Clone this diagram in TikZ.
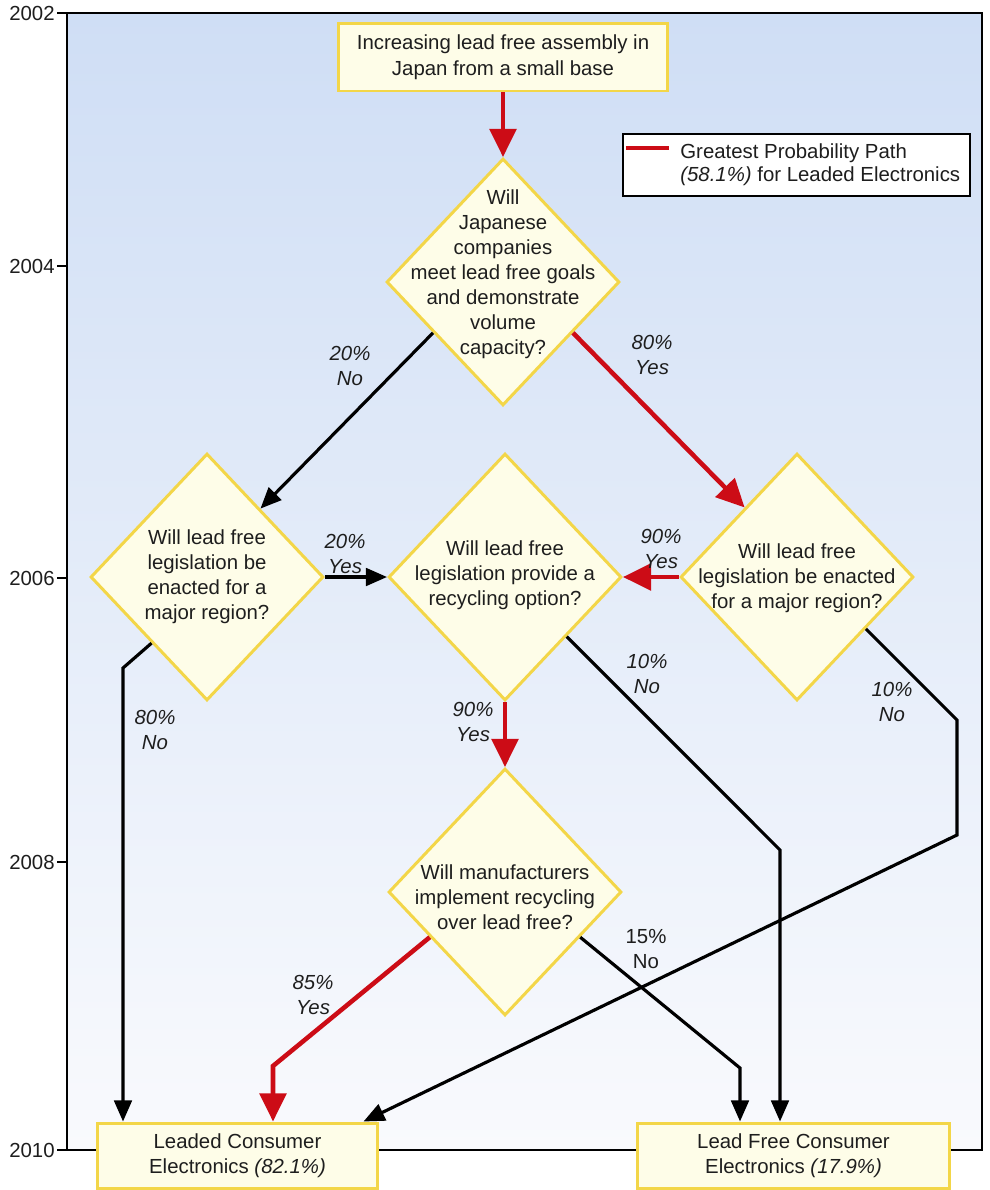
\documentclass[tikz,border=0pt]{standalone}
\usepackage{fontspec}
\setmainfont{Liberation Sans}
\usetikzlibrary{shapes.geometric,arrows.meta,calc}

\definecolor{pathred}{RGB}{204,12,22}
\definecolor{boxfill}{RGB}{254,253,232}
\definecolor{boxline}{RGB}{243,214,72}
\definecolor{bgtop}{RGB}{207,222,245}
\definecolor{bgmid}{RGB}{228,235,248}
\definecolor{bgbot}{RGB}{249,250,253}
\definecolor{ink}{RGB}{30,30,30}

\tikzset{
  txt/.style={font=\fontsize{11.6}{14.2}\selectfont, text=ink, align=center, inner sep=0pt},
  pct/.style={txt, font=\fontsize{11.6}{13.8}\selectfont\itshape},
  pctup/.style={txt, font=\fontsize{11.6}{13.8}\selectfont},
  box/.style={draw=boxline, fill=boxfill, line width=1.7pt, inner sep=0pt},
  decision/.style={diamond, box, minimum width=4.66cm, minimum height=4.94cm},
  flow/.style={line width=1.8pt, -{Triangle[length=12pt,width=10pt]}},
  redflow/.style={draw=pathred, line width=2.6pt, -{Triangle[length=16pt,width=15pt]}},
  frame/.style={line width=1.3pt}
}

\begin{document}
\begin{tikzpicture}[x=0.02cm,y=-0.02cm]
\useasboundingbox (0,0) rectangle (990,1190);
\fill[white] (0,0) rectangle (990,1190);

% time axis
\shade[top color=bgtop, middle color=bgmid, bottom color=bgbot] (67,13) rectangle (982,1150);
\draw[frame] (67,13) rectangle (982,1150);
\foreach \y/\yr in {13/2002,266/2004,578/2006,862/2008,1150/2010}{
  \draw[frame] (57,\y) -- (67,\y);
  \node[txt, anchor=east] (yr\yr) at (55,\y) {\yr};
}

% legend
\node[draw, fill=white, line width=1.3pt, minimum width=6.94cm, minimum height=1.24cm, inner sep=0pt] (legend) at (796.5,165) {};
\draw[draw=pathred, line width=2.6pt] ($(legend.north west)+(4,15)$) -- ++(43,0);
\node[txt, anchor=west, align=left, font=\fontsize{11.6}{13}\selectfont] (legtxt) at (680,165)
  {Greatest Probability Path\\\textit{(58.1\%)} for Leaded Electronics};

% boxes and questions
\node[box, txt, draw=boxline, fill=boxfill, minimum width=6.6cm, minimum height=1.36cm,
  font=\fontsize{11.6}{14.7}\selectfont] (start) at (503,57)
  {Increasing lead free assembly in\\Japan from a small base};

\node[decision] (q1) at (503,282) {};
\node[txt] (q1txt) at (503,274) {Will\\Japanese\\companies\\meet lead free goals\\and demonstrate\\volume\\capacity?};

\node[decision] (q2) at (207,577) {};
\node[txt] (q2txt) at (207,577) {Will lead free\\legislation be\\enacted for a\\major region?};

\node[decision] (q3) at (505,577) {};
\node[txt] (q3txt) at (505,575) {Will lead free\\legislation provide a\\recycling option?};

\node[decision] (q4) at (797,577) {};
\node[txt] (q4txt) at (797,578) {Will lead free\\legislation be enacted\\for a major region?};

\node[decision] (q5) at (505,892) {};
\node[txt] (q5txt) at (505,897) {Will manufacturers\\implement recycling\\over lead free?};

\node[box, txt, draw=boxline, fill=boxfill, minimum width=5.62cm, minimum height=1.3cm] (leaded) at (237.5,1155.5)
  {Leaded Consumer\\Electronics \textit{(82.1\%)}};
\node[box, txt, draw=boxline, fill=boxfill, minimum width=6.26cm, minimum height=1.3cm] (free) at (793.5,1155.5)
  {Lead Free Consumer\\Electronics \textit{(17.9\%)}};

% connectors
\coordinate (b2) at (123,668);
\coordinate (b3) at (780,850);
\coordinate (b4a) at (957,720);
\coordinate (b4b) at (957,835);
\coordinate (b5l) at (273,1066);
\coordinate (b5r) at (740,1068);

\draw[redflow] (start.south) -- (q1.north);
\draw[flow] (q1.216) -- (q2.52);
\draw[redflow] (q1.324) -- (q4.127);
\draw[flow] (q2.east) -- (q3.west);
\draw[redflow] (q4.west) -- (q3.east);
\draw[redflow] (q3.south) -- (q5.north);
\draw[flow] (q2.230) -- (b2) -- (b2 |- leaded.north);
\draw[flow] (q3.316) -- (b3) -- (b3 |- free.north);
\draw[flow] (q4.323) -- (b4a) -- (b4b) -- ($(leaded.north east)+(-16,0)$);
\draw[redflow] (q5.211) -- (b5l) -- (b5l |- leaded.north);
\draw[flow] (q5.329) -- (b5r) -- (b5r |- free.north);

% probabilities
\node[pct] (p1no) at (350,366) {20\%\\No};
\node[pct] (p1yes) at (652,355) {80\%\\Yes};
\node[pct] (p2yes) at (345,554) {20\%\\Yes};
\node[pct] (p2no) at (155,730) {80\%\\No};
\node[pct] (p4yes) at (661,549) {90\%\\Yes};
\node[pct] (p3no) at (647,674) {10\%\\No};
\node[pct] (p4no) at (892,702) {10\%\\No};
\node[pct] (p3yes) at (473,722) {90\%\\Yes};
\node[pct] (p5yes) at (313,995) {85\%\\Yes};
\node[pctup] (p5no) at (646,949) {15\%\\No};
\end{tikzpicture}
\end{document}
